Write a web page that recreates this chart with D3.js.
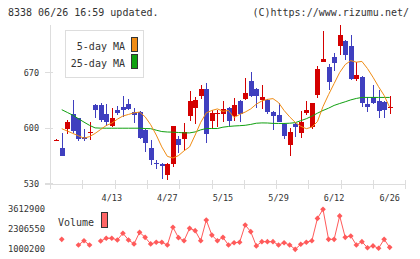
<!DOCTYPE html>
<html>
<head>
<meta charset="utf-8">
<script src="https://cdn.jsdelivr.net/npm/d3@7/dist/d3.min.js"></script>
<style>
body { margin: 0; background: #fff; }
text { font-family: "DejaVu Sans Mono", monospace; fill: #333; }
</style>
</head>
<body>
<div id="chart"></div>
<script>
// trading days 2020/03/30 - 2020/06/26
var dates = ["3/30","3/31","4/1","4/2","4/3","4/6","4/7","4/8","4/9","4/10",
    "4/13","4/14","4/15","4/16","4/17","4/20","4/21","4/22","4/23","4/24",
    "4/27","4/28","4/30","5/1","5/7","5/8","5/11","5/12","5/13","5/14",
    "5/15","5/18","5/19","5/20","5/21","5/22","5/25","5/26","5/27","5/28",
    "5/29","6/1","6/2","6/3","6/4","6/5","6/8","6/9","6/10","6/11",
    "6/12","6/15","6/16","6/17","6/18","6/19","6/22","6/23","6/24","6/25","6/26"];
var opens  = [585,575,599,617,612,588,594,629,629,618,603,623,627,630,620,620,597,574,556,555,
    541,555,586,586,615,625,640,649,609,617,617,625,615,634,636,659,649,635,635,620,
    616,605,579,605,594,619,601,641,683,677,690,704,710,703,662,664,630,639,634,633,626];
var highs  = [586,594,610,635,613,598,608,630,632,630,625,628,640,637,625,621,598,585,560,556,
    556,603,590,606,647,639,654,657,622,622,634,626,638,635,663,670,650,654,636,621,
    631,606,600,606,621,634,632,678,722,681,694,730,711,717,683,665,639,654,648,634,640];
var lows   = [585,564,592,593,584,584,585,612,607,603,601,616,614,622,606,586,570,553,548,536,
    534,551,568,572,609,605,636,581,599,601,608,603,609,608,635,639,625,624,618,597,
    607,586,564,588,587,616,598,638,683,648,672,692,686,661,659,627,620,630,612,612,617];
var closes = [585,565,607,596,586,586,595,623,610,608,613,619,622,624,616,587,581,559,554,552,
    555,602,578,595,634,635,649,592,619,619,624,609,629,617,644,640,640,639,620,615,
    608,590,595,601,608,622,631,674,687,658,682,717,692,662,667,632,627,631,621,622,626];
var ma5  = [null,599,596,593,590,587,589,593,598,603,606,611,615,617,619,620,614,604,591,576,
    564,562,565,571,576,591,607,619,622,624,621,622,613,617,620,624,630,634,636,637,
    632,622,614,607,602,599,601,608,627,642,656,670,680,685,683,684,675,664,652,641,626];
var ma25 = [null,623,619.5,616,611.6,607.3,603.2,600,599.7,599.6,599.6,599.6,599.6,599.6,599.6,599.6,599.2,599,597.1,595.4,
    594.8,594.6,594.2,593.7,593.7,594.9,597.5,599.2,599.2,599.2,600.9,601.8,602.4,602.8,603.3,604.4,605.9,606.3,606.2,605.7,
    605.6,605.6,605.9,606.6,609.1,611.6,614.8,618.6,622,624.9,628.4,630.8,633,635.4,637.2,638.5,638.5,638.5,638.5,638.5,638.5];
var volumes = [null,1650000,null,null,1280000,1560000,1280000,null,1540000,1720000,1720000,1610000,2050000,1610000,1350000,2110000,1780000,1350000,1460000,1460000,
    1280000,2440000,1760000,1560000,2370000,2220000,1560000,2910000,1930000,1560000,1780000,1280000,1430000,1460000,2590000,2150000,1220000,1500000,1500000,1500000,
    1280000,1430000,1280000,1000200,1330000,1460000,1560000,3020000,3612900,1650000,1650000,3180000,1780000,1870000,1280000,1500000,1100000,1220000,1070000,1650000,1130000];
var labelDates = ["4/13","4/27","5/15","5/29","6/12","6/26"];
var priceTicks = [530,600,670];
var volumeTicks = [1000200,2306550,3612900];

function drawChart(placement, width, height){
    var upColor = "#d40000", downColor = "#3f3fbf";
    var svg = d3.select(placement).append("svg")
        .attr("width", width).attr("height", height)
        .attr("viewBox", [0, 0, width, height]);

    var x = d3.scalePoint().domain(dates).range([56.2, 389.7]);
    var grid = d3.scaleLinear().domain([0, 11]).range([50, 405.3]);
    var y = d3.scaleLinear().domain([530, 730]).range([183.3, 25]);
    var yv = d3.scaleLinear().domain([1000200, 3612900]).range([249.3, 209.3]);

    var candles = dates.map(function(d, i){
        return {date: d, o: opens[i], h: highs[i], l: lows[i], c: closes[i],
                ma5: ma5[i], ma25: ma25[i], vol: volumes[i]};
    });

    // header
    svg.append("text").attr("x", 8).attr("y", 16).attr("font-size", "10px")
        .text("8338 06/26 16:59 updated.");
    svg.append("text").attr("x", 409).attr("y", 16).attr("font-size", "10px")
        .attr("text-anchor", "end").text("(C)https://www.rizumu.net/");

    // axes
    svg.append("line").attr("x1", 50.5).attr("x2", 50.5).attr("y1", 25).attr("y2", 189)
        .attr("stroke", "#ddd");
    svg.append("line").attr("x1", 45).attr("x2", 406).attr("y1", 184.5).attr("y2", 184.5)
        .attr("stroke", "#ddd");

    svg.append("g")
        .attr("transform", "translate(0,180)")
        .call(d3.axisBottom(grid).tickValues(d3.range(12)).tickSize(9).tickFormat(""))
        .call(g => g.select(".domain").remove())
        .call(g => g.selectAll("line").attr("stroke", "#ddd").attr("shape-rendering", "crispEdges"));

    svg.append("g")
        .attr("transform", "translate(53,0)")
        .call(d3.axisLeft(y).tickValues(priceTicks).tickSize(8).tickPadding(6))
        .call(g => g.select(".domain").remove())
        .call(g => g.selectAll("line").attr("stroke", "#ddd").attr("shape-rendering", "crispEdges"))
        .call(g => g.selectAll("text").attr("font-size", "8.5px").attr("font-family", "DejaVu Sans Mono").style("fill", "#333"));

    svg.append("g").attr("class", "dateLabels")
        .selectAll("text").data(labelDates).enter().append("text")
        .attr("x", d => x(d)).attr("y", 201)
        .attr("font-size", "8.5px").attr("text-anchor", "middle")
        .text(d => d);

    // candles
    var candle = svg.append("g").attr("shape-rendering", "crispEdges")
        .selectAll("g").data(candles).enter().append("g");

    candle.append("line")
        .attr("x1", d => Math.round(x(d.date)) + 0.5)
        .attr("x2", d => Math.round(x(d.date)) + 0.5)
        .attr("y1", d => y(d.h)).attr("y2", d => y(d.l))
        .attr("stroke", d => d.c >= d.o ? upColor : downColor);

    candle.append("rect")
        .attr("x", d => Math.round(x(d.date)) - 2)
        .attr("width", 5)
        .attr("y", d => y(Math.max(d.o, d.c)))
        .attr("height", d => Math.max(1, y(Math.min(d.o, d.c)) - y(Math.max(d.o, d.c))))
        .attr("fill", d => d.c >= d.o ? upColor : downColor);

    // moving averages
    var maLine = function(key){
        return d3.line()
            .defined(d => d[key] != null)
            .x(d => x(d.date))
            .y(d => y(d[key]));
    };
    svg.append("path").datum(candles)
        .attr("d", maLine("ma25"))
        .attr("fill", "none").attr("stroke", "#10a010").attr("stroke-width", 1);
    svg.append("path").datum(candles)
        .attr("d", maLine("ma5"))
        .attr("fill", "none").attr("stroke", "#f08c14").attr("stroke-width", 1);

    // legend
    var legend = svg.append("g").attr("class", "legend");
    legend.append("rect").attr("x", 65.5).attr("y", 30.5).attr("width", 78).attr("height", 47)
        .attr("fill", "#fff").attr("stroke", "#ddd");
    var maKeys = [{name: "5-day MA", color: "#f08c14"}, {name: "25-day MA", color: "#10a010"}];
    var item = legend.selectAll(".item").data(maKeys).enter().append("g")
        .attr("transform", (d, i) => "translate(0," + i * 17 + ")");
    item.append("text").attr("x", 125).attr("y", 50)
        .attr("font-size", "10px").attr("text-anchor", "end").text(d => d.name);
    item.append("rect").attr("x", 131.5).attr("y", 37.5).attr("width", 6).attr("height", 14)
        .attr("fill", d => d.color).attr("stroke", "#333");

    // volume
    svg.selectAll(".volTick").data(volumeTicks).enter().append("text")
        .attr("x", 45).attr("y", d => yv(d)).attr("dy", "0.35em")
        .attr("font-size", "8.8px").attr("text-anchor", "end")
        .text(d => d);

    var volColor = "#ff5a5a";
    svg.append("path").datum(candles)
        .attr("d", d3.line().defined(d => d.vol != null).x(d => x(d.date)).y(d => yv(d.vol)))
        .attr("fill", "none").attr("stroke", volColor).attr("stroke-width", 1);
    svg.append("g").selectAll("path").data(candles.filter(d => d.vol != null)).enter().append("path")
        .attr("d", d3.symbol(d3.symbolSquare, 16))
        .attr("transform", d => "translate(" + x(d.date) + "," + yv(d.vol) + ") rotate(45)")
        .attr("fill", volColor);

    svg.append("text").attr("x", 58).attr("y", 226).attr("font-size", "10px").text("Volume");
    svg.append("rect").attr("x", 101.5).attr("y", 212.5).attr("width", 6).attr("height", 15)
        .attr("fill", "#ff6666").attr("stroke", "#333");
}

drawChart("#chart", 420, 259);
</script>
</body>
</html>
